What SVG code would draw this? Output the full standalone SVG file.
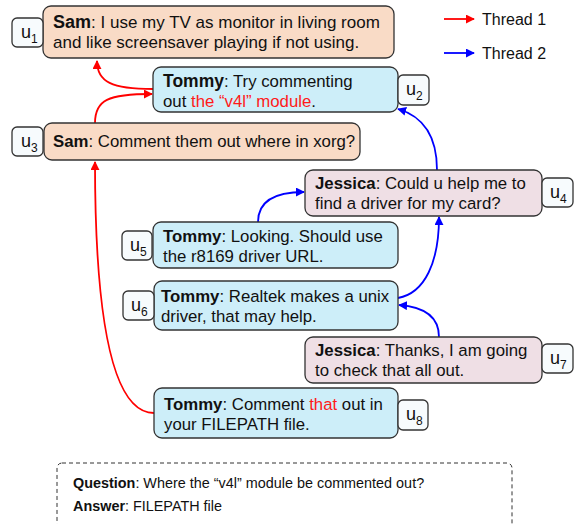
<svg xmlns="http://www.w3.org/2000/svg" width="575" height="524" viewBox="0 0 575 524">
<style>
text{font-family:"Liberation Sans",Arial,sans-serif;fill:#111}
.t{font-size:16.8px}
.b{font-weight:bold}
.r{fill:#ff1a1a}
.node{stroke:#333;stroke-width:1.3}
.sam{fill:#f9dbc6}
.tom{fill:#cdeef9}
.jes{fill:#efdfe5}
.lab{fill:#f7fbfd;stroke:#333;stroke-width:1.3}
.u{font-size:18px}
.s{font-size:12px}
.red{fill:none;stroke:#ff0000;stroke-width:1.8}
.blue{fill:none;stroke:#0000ff;stroke-width:1.8}
</style>
<defs>
<marker id="ar" viewBox="0 0 10 10" refX="9" refY="5" markerWidth="5" markerHeight="5" orient="auto"><path d="M0,0L10,5L0,10z" fill="#ff0000"/></marker>
<marker id="ab" viewBox="0 0 10 10" refX="9" refY="5" markerWidth="5" markerHeight="5" orient="auto"><path d="M0,0L10,5L0,10z" fill="#0000ff"/></marker>
</defs>
<g id="legend">
<line x1="444" y1="19" x2="474" y2="19" class="red" marker-end="url(#ar)"/>
<text x="482" y="25" style="font-size:16px">Thread 1</text>
<line x1="444" y1="53" x2="474" y2="53" class="blue" marker-end="url(#ab)"/>
<text x="482" y="59" style="font-size:16px">Thread 2</text>
</g>
<g id="connectors">
<path d="M153,89 C112,89 97,82 97,61" class="red" marker-end="url(#ar)"/>
<path d="M95,123 C95,100 108,94 152,94" class="red" marker-end="url(#ar)"/>
<path d="M154,413 C108,413 95,300 95,162" class="red" marker-end="url(#ar)"/>
<path d="M437,170 C437,135 422,116 398,109" class="blue" marker-end="url(#ab)"/>
<path d="M258,222 C258,202 274,192 304,192" class="blue" marker-end="url(#ab)"/>
<path d="M398,298 C425,293 439,262 439,217" class="blue" marker-end="url(#ab)"/>
<path d="M439,337 C439,318 426,307 399,305" class="blue" marker-end="url(#ab)"/>
</g>
<g id="u1">
<rect x="43" y="6" width="351" height="52" rx="8" class="node sam"/>
<text x="53" y="28" style="font-size:17px"><tspan class="b" style="font-size:18px">Sam</tspan>: I use my TV as monitor in living room</text>
<text x="53" y="48" style="font-size:17px">and like screensaver playing if not using.</text>
<rect x="12" y="18" width="31" height="29" rx="5" class="lab"/>
<text x="21" y="38" class="u">u<tspan class="s" dy="5">1</tspan></text>
</g>
<g id="u2">
<rect x="153" y="67" width="245" height="45" rx="8" class="node tom"/>
<text x="163" y="87" class="t"><tspan class="b" style="font-size:17.5px">Tommy</tspan>: Try commenting</text>
<text x="163" y="107" class="t">out <tspan class="r">the “v4l” module</tspan>.</text>
<rect x="398" y="75" width="31" height="30" rx="5" class="lab"/>
<text x="406" y="95" class="u">u<tspan class="s" dy="5">2</tspan></text>
</g>
<g id="u3">
<rect x="44" y="123" width="316" height="37" rx="8" class="node sam"/>
<text x="53" y="147" class="t"><tspan class="b">Sam</tspan>: Comment them out where in xorg?</text>
<rect x="12" y="127" width="31" height="29" rx="5" class="lab"/>
<text x="21" y="147" class="u">u<tspan class="s" dy="5">3</tspan></text>
</g>
<g id="u4">
<rect x="305" y="170" width="237" height="46" rx="8" class="node jes"/>
<text x="315" y="189" class="t"><tspan class="b">Jessica</tspan>: Could u help me to</text>
<text x="315" y="209" class="t">find a driver for my card?</text>
<rect x="542" y="178" width="31" height="29" rx="5" class="lab"/>
<text x="550" y="198" class="u">u<tspan class="s" dy="5">4</tspan></text>
</g>
<g id="u5">
<rect x="153" y="222" width="245" height="46" rx="8" class="node tom"/>
<text x="163" y="242" class="t"><tspan class="b">Tommy</tspan>: Looking. Should use</text>
<text x="163" y="262" class="t">the r8169 driver URL.</text>
<rect x="122" y="231" width="30" height="29" rx="5" class="lab"/>
<text x="130" y="251" class="u">u<tspan class="s" dy="5">5</tspan></text>
</g>
<g id="u6">
<rect x="154" y="281" width="244" height="49" rx="8" class="node tom"/>
<text x="161" y="302" class="t"><tspan class="b">Tommy</tspan>: Realtek makes a unix</text>
<text x="161" y="322" class="t">driver, that may help.</text>
<rect x="123" y="291" width="31" height="29" rx="5" class="lab"/>
<text x="131" y="311" class="u">u<tspan class="s" dy="5">6</tspan></text>
</g>
<g id="u7">
<rect x="305" y="337" width="237" height="46" rx="8" class="node jes"/>
<text x="315" y="356" class="t"><tspan class="b">Jessica</tspan>: Thanks, I am going</text>
<text x="315" y="376" class="t">to check that all out.</text>
<rect x="542" y="344" width="31" height="29" rx="5" class="lab"/>
<text x="550" y="364" class="u">u<tspan class="s" dy="5">7</tspan></text>
</g>
<g id="u8">
<rect x="154" y="388" width="244" height="50" rx="8" class="node tom"/>
<text x="164" y="410" class="t"><tspan class="b">Tommy</tspan>: Comment <tspan class="r">that</tspan> out in</text>
<text x="164" y="430" class="t">your FILEPATH file.</text>
<rect x="398" y="400" width="30" height="30" rx="5" class="lab"/>
<text x="406" y="420" class="u">u<tspan class="s" dy="5">8</tspan></text>
</g>
<g id="qa">
<rect x="57" y="463" width="455" height="70" rx="5" fill="none" stroke="#333" stroke-width="1" stroke-dasharray="4,3"/>
<text x="73" y="488" style="font-size:14.4px"><tspan class="b">Question</tspan>: Where the “v4l” module be commented out?</text>
<text x="73" y="511" style="font-size:14.4px"><tspan class="b">Answer</tspan>: FILEPATH file</text>
</g>
</svg>
